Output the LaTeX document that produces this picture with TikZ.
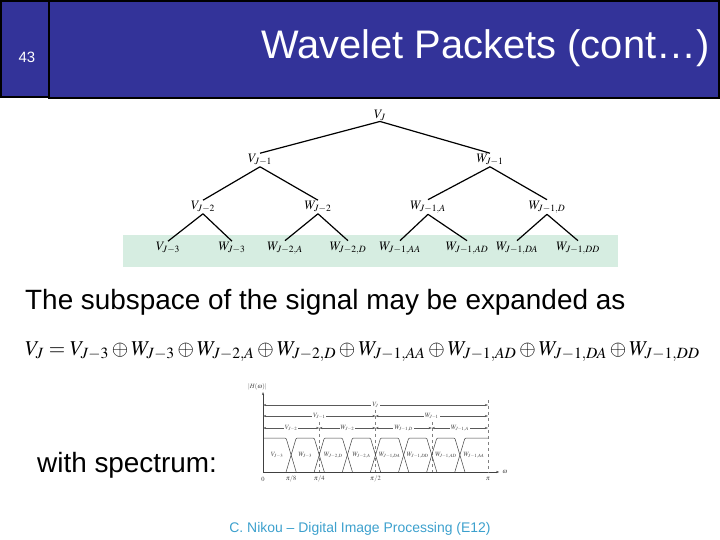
\documentclass[tikz,border=0pt]{standalone}
\usepackage{mathptmx}
\usepackage[no-math]{fontspec}
\setmainfont{Liberation Sans}
\usetikzlibrary{arrows.meta}
\definecolor{slideblue}{RGB}{51,51,153}
\definecolor{bandgreen}{RGB}{214,237,225}
\definecolor{footteal}{RGB}{60,160,205}

\begin{document}
\begin{tikzpicture}[x=1bp,y=-1bp,
  lbl/.style={inner sep=1bp,font=\fontsize{13}{15}\selectfont},
  edge/.style={line width=1.2bp},
  dim/.style={{Stealth[length=3bp,width=2bp]}-{Stealth[length=3bp,width=2bp]},black!65,line width=0.4bp},
  tag/.style={fill=white,inner sep=1bp,text=black!75,font=\fontsize{6.5}{8}\selectfont}]
\useasboundingbox (0,0) rectangle (720,540);
% title bar
\draw[fill=slideblue,line width=2bp] (1,1) rectangle (49,97);
\draw[fill=slideblue,line width=2bp] (49,1) rectangle (719,98);
\node[white,font=\fontsize{15}{17}\selectfont] (num) at (27,57) {43};
\node[white,anchor=east,font=\fontsize{40}{48}\selectfont] (title) at (713,48) {Wavelet Packets (cont…)};
% tree
\fill[bandgreen] (123,235) rectangle (618,267);
\node[lbl] (vj) at (380,115) {$V_J$};
\node[lbl] (vj1) at (260,160) {$V_{J-1}$};
\node[lbl] (wj1) at (490,160) {$W_{J-1}$};
\node[lbl] (vj2) at (203,207) {$V_{J-2}$};
\node[lbl] (wj2) at (318,207) {$W_{J-2}$};
\node[lbl] (wj1a) at (428,207) {$W_{J-1,A}$};
\node[lbl] (wj1d) at (547,207) {$W_{J-1,D}$};
\foreach \n/\x/\t in {b1/168/{V_{J-3}},b2/232/{W_{J-3}},b3/285/{W_{J-2,A}},b4/348/{W_{J-2,D}},
  b5/400/{W_{J-1,AA}},b6/467/{W_{J-1,AD}},b7/517/{W_{J-1,DA}},b8/578/{W_{J-1,DD}}}
  \node[lbl] (\n) at (\x,248) {$\t$};
\foreach \p/\c in {vj/vj1,vj/wj1,vj1/vj2,vj1/wj2,wj1/wj1a,wj1/wj1d,vj2/b1,vj2/b2,
  wj2/b3,wj2/b4,wj1a/b5,wj1a/b6,wj1d/b7,wj1d/b8}
  \draw[edge] (\p.south) -- (\c.north);
% text
\node[anchor=base west,inner sep=0,font=\fontsize{28}{32}\selectfont] (sub) at (25,309) {The subspace of the signal may be expanded as};
\node[anchor=base west,inner sep=0,font=\fontsize{21.2}{25}\selectfont] (eq) at (25,355)
  {$V_J=V_{J-3}\oplus W_{J-3}\oplus W_{J-2,A}\oplus W_{J-2,D}\oplus W_{J-1,AA}\oplus W_{J-1,AD}\oplus W_{J-1,DA}\oplus W_{J-1,DD}$};
\node[anchor=base west,inner sep=0,font=\fontsize{28}{32}\selectfont] (spec) at (37,472) {with spectrum:};
% spectrum
\begin{scope}[shift={(263,472)},x=28.125bp,black!75,line width=0.5bp]
\draw[-{Stealth[length=3bp,width=2bp]}] (0,0) -- (8.4,0);
\draw[-{Stealth[length=3bp,width=2bp]}] (0,0) -- (0,-80);
\node[tag] (om) at (8.6,0) {$\omega$};
\node[tag] (hw) at (-0.2,-85) {$|H(\omega)|$};
\foreach \k/\t in {0/0,1/{\pi/8},2/{\pi/4},4/{\pi/2},8/\pi}
  \node[tag] at (\k,7) {$\t$};
\foreach \k/\t in {2/-50,4/-62,6/-50,8/-72}
  \draw[dashed,gray,line width=0.4bp] (\k,\t) -- (\k,0);
% filtres
\draw[rounded corners=1bp] (0,-34) -- (0.82,-34) -- (1.18,0);
\foreach \k in {1,...,6}
  \draw[rounded corners=1bp] (\k-0.18,0) -- (\k+0.18,-34) -- (\k+0.82,-34) -- (\k+1.18,0);
\draw[rounded corners=1bp] (6.82,0) -- (7.18,-34) -- (8,-34);
\foreach \k/\t in {0/{V_{J-3}},1/{W_{J-3}},2/{W_{J-2,D}},3/{W_{J-2,A}},4/{W_{J-1,DA}},
  5/{W_{J-1,DD}},6/{W_{J-1,AD}},7/{W_{J-1,AA}}}
  \node[tag,fill=none] at (\k+0.5,-17) {$\t$};
% bandes
\draw[dim] (0,-67) -- node[tag] {$V_J$} (8,-67);
\foreach \a/\b/\t in {0/4/{V_{J-1}},4/8/{W_{J-1}}}
  \draw[dim] (\a,-56) -- node[tag] {$\t$} (\b,-56);
\foreach \a/\b/\t in {0/2/{V_{J-2}},2/4/{W_{J-2}},4/6/{W_{J-1,D}},6/8/{W_{J-1,A}}}
  \draw[dim] (\a,-44) -- node[tag] {$\t$} (\b,-44);
\end{scope}
% footer
\node[anchor=base,text=footteal,font=\fontsize{14}{16}\selectfont] (foot) at (360,532) {C. Nikou – Digital Image Processing (E12)};
\end{tikzpicture}
\end{document}
